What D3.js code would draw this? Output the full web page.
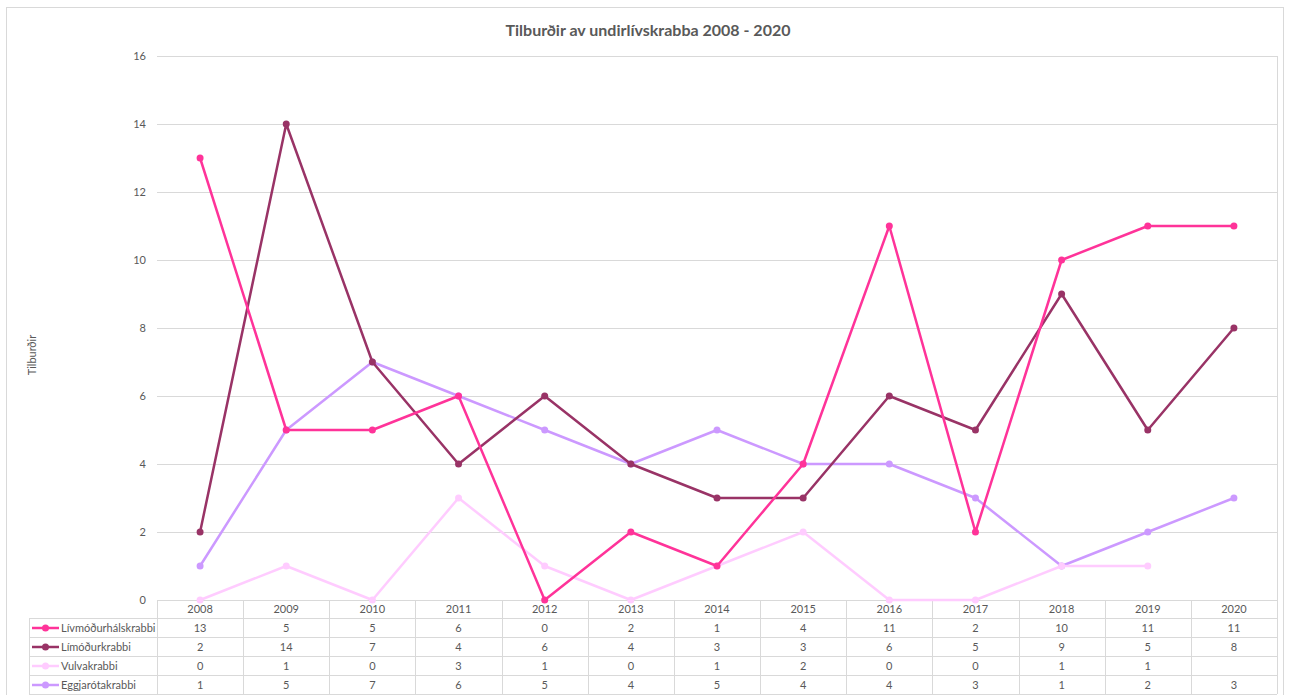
<!DOCTYPE html>
<html>
<head>
<meta charset="utf-8">
<script src="https://cdn.jsdelivr.net/npm/d3@7"></script>
<style>
  body { margin: 0; background: #fff; }
  text { font-family: Lato, "Open Sans", sans-serif; }
</style>
</head>
<body>
<svg id="chart"></svg>
<script>
// Data
const years = ["2008", "2009", "2010", "2011", "2012", "2013", "2014", "2015", "2016", "2017", "2018", "2019", "2020"];
const seriesNames = ["Lívmóðurhálskrabbi", "Límóðurkrabbi", "Vulvakrabbi", "Eggjarótakrabbi"];
const livmodurhals = [13, 5, 5, 6, 0, 2, 1, 4, 11, 2, 10, 11, 11];
const limodur = [2, 14, 7, 4, 6, 4, 3, 3, 6, 5, 9, 5, 8];
const vulva = [0, 1, 0, 3, 1, 0, 1, 2, 0, 0, 1, 1, null];
const eggjarota = [1, 5, 7, 6, 5, 4, 5, 4, 4, 3, 1, 2, 3];
const yTicks = [0, 2, 4, 6, 8, 10, 12, 14, 16];

const seriesColors = ["#ff3399", "#993366", "#ffccff", "#cc99ff"];
const seriesValues = [livmodurhals, limodur, vulva, eggjarota];

// Layout
const width = 1290;
const height = 695;
const plotLeft = 157;
const plotRight = 1277;
const plotTop = 56;
const plotBottom = 600;
const tableLeft = 29;
const headerRowH = 18;
const rowH = 19;
const gridColor = "#d9d9d9";
const textColor = "#595959";

const svg = d3.select('#chart')
    .attr('width', width)
    .attr('height', height);

// Chart border
svg.append('rect')
    .attr('x', 6.5)
    .attr('y', 7.5)
    .attr('width', 1277)
    .attr('height', 720)
    .attr('fill', '#fff')
    .attr('stroke', gridColor);

const x = d3.scaleBand()
    .domain(years)
    .range([plotLeft, plotRight]);

const y = d3.scaleLinear()
    .domain([0, 16])
    .range([plotBottom, plotTop]);

// Gridlines
svg.append('g')
    .selectAll('line')
    .data(yTicks)
    .enter()
    .append('line')
    .attr('x1', plotLeft)
    .attr('x2', plotRight)
    .attr('y1', d => Math.round(y(d)) + 0.5)
    .attr('y2', d => Math.round(y(d)) + 0.5)
    .attr('stroke', gridColor)
    .attr('stroke-width', 1);

// Y axis labels
const yAxis = d3.axisLeft(y)
    .tickValues(yTicks)
    .tickSize(0)
    .tickPadding(11);

const yAxisG = svg.append('g')
    .attr('transform', `translate(${plotLeft}, 0)`)
    .call(yAxis);
yAxisG.select('.domain').remove();
yAxisG.selectAll('text')
    .attr('font-family', 'Lato, "Open Sans", sans-serif')
    .attr('font-size', 11)
    .attr('fill', textColor);

// Plot right edge
svg.append('line')
    .attr('x1', plotRight + 0.5)
    .attr('x2', plotRight + 0.5)
    .attr('y1', plotTop)
    .attr('y2', plotBottom + headerRowH + rowH * 4)
    .attr('stroke', gridColor);

// Title
svg.append('text')
    .attr('x', 648)
    .attr('y', 36)
    .attr('text-anchor', 'middle')
    .attr('font-size', 16)
    .attr('font-weight', 'bold')
    .attr('fill', textColor)
    .text('Tilburðir av undirlívskrabba 2008 - 2020');

// Y axis title
svg.append('text')
    .attr('transform', `translate(36, 355) rotate(-90)`)
    .attr('text-anchor', 'middle')
    .attr('font-size', 11)
    .attr('fill', textColor)
    .text('Tilburðir');

// Data table
const tableG = svg.append('g');
const tableBottom = plotBottom + headerRowH + rowH * 4;

// Horizontal table lines
for (let r = 0; r <= 4; r++) {
    const ly = plotBottom + headerRowH + r * rowH + 0.5;
    tableG.append('line')
        .attr('x1', tableLeft)
        .attr('x2', plotRight)
        .attr('y1', ly)
        .attr('y2', ly)
        .attr('stroke', gridColor);
}

// Vertical table lines at band boundaries
const boundaries = years.map(d => x(d)).concat([plotRight]);
boundaries.forEach(bx => {
    tableG.append('line')
        .attr('x1', Math.round(bx) + 0.5)
        .attr('x2', Math.round(bx) + 0.5)
        .attr('y1', plotBottom)
        .attr('y2', tableBottom)
        .attr('stroke', gridColor);
});
tableG.append('line')
    .attr('x1', tableLeft + 0.5)
    .attr('x2', tableLeft + 0.5)
    .attr('y1', plotBottom + headerRowH)
    .attr('y2', tableBottom)
    .attr('stroke', gridColor);

// Year header labels
tableG.selectAll('.year-label')
    .data(years)
    .enter()
    .append('text')
    .attr('class', 'year-label')
    .attr('x', d => x(d) + x.bandwidth() / 2)
    .attr('y', plotBottom + headerRowH / 2)
    .attr('dy', '0.35em')
    .attr('text-anchor', 'middle')
    .attr('font-size', 11)
    .attr('fill', textColor)
    .text(d => d);

// Rows
seriesNames.forEach((name, i) => {
    const cy = plotBottom + headerRowH + i * rowH + rowH / 2 + 0.5;

    // Legend key
    tableG.append('line')
        .attr('x1', 32)
        .attr('x2', 59)
        .attr('y1', cy)
        .attr('y2', cy)
        .attr('stroke', seriesColors[i])
        .attr('stroke-width', 2.5);
    tableG.append('circle')
        .attr('cx', 45.5)
        .attr('cy', cy)
        .attr('r', 3.5)
        .attr('fill', seriesColors[i]);
    tableG.append('text')
        .attr('x', 61)
        .attr('y', cy)
        .attr('dy', '0.35em')
        .attr('font-size', 11)
        .attr('fill', textColor)
        .text(name);

    // Values
    tableG.selectAll(`.val-${i}`)
        .data(seriesValues[i].map((v, j) => ({ v, year: years[j] })).filter(d => d.v !== null))
        .enter()
        .append('text')
        .attr('class', `val-${i}`)
        .attr('x', d => x(d.year) + x.bandwidth() / 2)
        .attr('y', cy)
        .attr('dy', '0.35em')
        .attr('text-anchor', 'middle')
        .attr('font-size', 11)
        .attr('fill', textColor)
        .text(d => d.v);
});

// Lines, drawn last series first so the first sits on top
const line = d3.line()
    .defined(d => d.v !== null)
    .x(d => x(d.year) + x.bandwidth() / 2)
    .y(d => y(d.v));

const drawOrder = [3, 2, 1, 0];
drawOrder.forEach(i => {
    const pts = seriesValues[i].map((v, j) => ({ v, year: years[j] }));
    const g = svg.append('g');
    g.append('path')
        .datum(pts)
        .attr('d', line)
        .attr('fill', 'none')
        .attr('stroke', seriesColors[i])
        .attr('stroke-width', 2.5)
        .attr('stroke-linejoin', 'round');
    g.selectAll('circle')
        .data(pts.filter(d => d.v !== null))
        .enter()
        .append('circle')
        .attr('cx', d => x(d.year) + x.bandwidth() / 2)
        .attr('cy', d => y(d.v))
        .attr('r', 3.5)
        .attr('fill', seriesColors[i]);
});
</script>
</body>
</html>
